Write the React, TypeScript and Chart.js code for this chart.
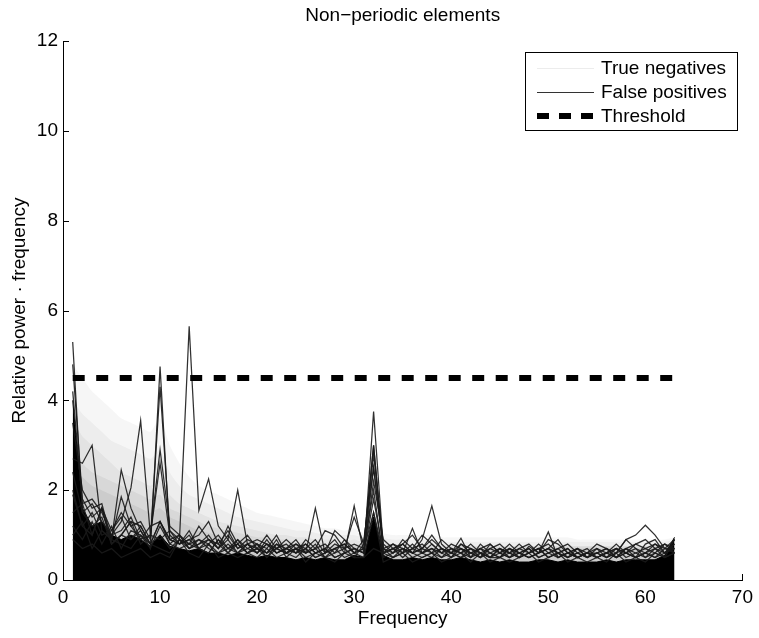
import React, { useEffect, useRef } from "react";
import { Chart, registerables } from "chart.js";
Chart.register(...registerables);

const chartTitle = "Non\u2212periodic elements";
const xTitle = "Frequency";
const yTitle = "Relative power \u00b7 frequency";
const xTicks = [0, 10, 20, 30, 40, 50, 60, 70];
const yTicks = [0, 2, 4, 6, 8, 10, 12];
const legendLabels = ["True negatives", "False positives", "Threshold"];

const freqs = [
  1, 2, 3, 4, 5, 6, 7, 8, 9, 10, 11, 12, 13, 14, 15, 16, 17, 18, 19, 20,
  21, 22, 23, 24, 25, 26, 27, 28, 29, 30, 31, 32, 33, 34, 35, 36, 37, 38, 39, 40,
  41, 42, 43, 44, 45, 46, 47, 48, 49, 50, 51, 52, 53, 54, 55, 56, 57, 58, 59, 60,
  61, 62, 63,
];

const thresholdX = [1, 63];
const thresholdY = [4.5, 4.5];

// True negatives (light grey haze), envelopes from outermost to innermost
const tn1 = [
  4.8, 4.5, 4.2, 4.0, 3.8, 3.6, 3.5, 3.4, 3.3, 3.6,
  3.0, 2.6, 2.3, 2.1, 2.0, 1.9, 1.8, 1.7, 1.6, 1.5,
  1.45, 1.4, 1.35, 1.3, 1.25, 1.2, 1.15, 1.15, 1.1, 1.15,
  1.05, 1.4, 1.05, 1.0, 1.0, 1.0, 1.0, 1.0, 0.95, 0.95,
  0.95, 0.95, 0.95, 0.95, 0.95, 0.95, 0.95, 0.95, 0.95, 0.95,
  0.95, 0.95, 0.9, 0.9, 0.9, 0.9, 0.9, 0.9, 0.9, 0.9,
  0.9, 0.9, 0.95,
];
const tn2 = [
  4.0, 3.7, 3.5, 3.3, 3.1, 3.0, 2.9, 2.8, 2.7, 2.9,
  2.4, 2.1, 1.9, 1.8, 1.7, 1.6, 1.5, 1.4, 1.35, 1.3,
  1.25, 1.2, 1.15, 1.1, 1.1, 1.05, 1.0, 1.0, 1.0, 1.0,
  0.95, 1.2, 0.95, 0.9, 0.9, 0.9, 0.9, 0.9, 0.85, 0.85,
  0.85, 0.85, 0.85, 0.85, 0.85, 0.85, 0.85, 0.85, 0.85, 0.85,
  0.85, 0.85, 0.85, 0.85, 0.85, 0.85, 0.85, 0.85, 0.85, 0.85,
  0.85, 0.85, 0.9,
];
const tn3 = [
  3.6, 3.2, 3.0, 2.8, 2.6, 2.4, 2.3, 2.2, 2.1, 2.2,
  1.9, 1.7, 1.6, 1.5, 1.4, 1.3, 1.25, 1.2, 1.15, 1.1,
  1.05, 1.0, 1.0, 0.95, 0.95, 0.9, 0.9, 0.9, 0.85, 0.9,
  0.85, 1.1, 0.85, 0.8, 0.8, 0.8, 0.8, 0.8, 0.75, 0.75,
  0.75, 0.75, 0.75, 0.75, 0.75, 0.75, 0.75, 0.75, 0.75, 0.75,
  0.75, 0.75, 0.75, 0.75, 0.75, 0.75, 0.75, 0.75, 0.75, 0.75,
  0.75, 0.75, 0.8,
];
const tn4 = [
  3.0, 2.6, 2.4, 2.3, 2.2, 2.1, 2.0, 1.9, 1.8, 1.9,
  1.6, 1.5, 1.4, 1.3, 1.2, 1.15, 1.1, 1.05, 1.0, 0.95,
  0.95, 0.9, 0.9, 0.85, 0.85, 0.85, 0.8, 0.8, 0.8, 0.8,
  0.8, 1.0, 0.8, 0.75, 0.75, 0.75, 0.75, 0.75, 0.75, 0.75,
  0.75, 0.75, 0.75, 0.75, 0.75, 0.75, 0.75, 0.75, 0.75, 0.75,
  0.75, 0.75, 0.75, 0.75, 0.75, 0.75, 0.75, 0.75, 0.75, 0.75,
  0.75, 0.75, 0.75,
];
const tn5 = [
  2.6, 2.3, 2.1, 2.0, 1.9, 1.8, 1.7, 1.6, 1.5, 1.6,
  1.4, 1.3, 1.2, 1.1, 1.05, 1.0, 0.95, 0.9, 0.9, 0.85,
  0.85, 0.8, 0.8, 0.8, 0.75, 0.75, 0.75, 0.75, 0.75, 0.75,
  0.75, 0.9, 0.75, 0.7, 0.7, 0.7, 0.7, 0.7, 0.7, 0.7,
  0.7, 0.7, 0.7, 0.7, 0.7, 0.7, 0.7, 0.7, 0.7, 0.7,
  0.7, 0.7, 0.7, 0.7, 0.7, 0.7, 0.7, 0.7, 0.7, 0.7,
  0.7, 0.7, 0.75,
];
const tnLayers = [tn1, tn2, tn3, tn4, tn5];
const tnAlphas = [0.035, 0.04, 0.045, 0.05, 0.06];

// False positives: dense mass envelope
const fpMass = [
  4.0, 1.6, 1.2, 1.3, 1.0, 0.9, 1.0, 0.9, 0.75, 1.0,
  0.75, 0.7, 0.65, 0.7, 0.6, 0.6, 0.55, 0.6, 0.55, 0.5,
  0.55, 0.5, 0.5, 0.45, 0.5, 0.45, 0.5, 0.45, 0.45, 0.55,
  0.5, 1.4, 0.55, 0.45, 0.45, 0.5, 0.45, 0.5, 0.45, 0.45,
  0.5, 0.45, 0.4, 0.45, 0.4, 0.45, 0.4, 0.4, 0.45, 0.45,
  0.4, 0.45, 0.4, 0.4, 0.4, 0.45, 0.4, 0.45, 0.45, 0.45,
  0.45, 0.55, 0.95,
];

// Individual false-positive traces
const fp1 = [
  0.9, 0.7, 0.8, 0.6, 0.7, 0.5, 0.6, 0.7, 0.5, 0.6,
  0.5, 0.9, 5.65, 1.55, 2.25, 1.2, 0.9, 2.0, 0.8, 0.6,
  0.9, 0.6, 0.7, 0.8, 0.6, 1.6, 0.6, 1.1, 0.9, 0.6,
  0.5, 0.7, 0.6, 0.7, 0.8, 0.6, 0.9, 1.65, 0.8, 0.6,
  0.7, 0.5, 0.8, 0.6, 0.5, 0.7, 0.6, 0.5, 0.6, 0.7,
  0.6, 0.5, 0.6, 0.5, 0.6, 0.5, 0.6, 0.9, 1.0, 1.22,
  1.0, 0.7, 0.6,
];
const fp2 = [
  5.3, 1.5, 1.2, 1.4, 0.8, 1.0, 0.9, 1.1, 0.7, 4.75,
  0.9, 0.8, 1.0, 0.7, 0.8, 0.6, 0.7, 0.8, 0.6, 0.7,
  0.5, 0.8, 0.6, 0.7, 0.5, 0.6, 0.7, 0.5, 0.6, 1.65,
  0.6, 3.75, 0.7, 0.5, 0.6, 1.15, 0.6, 0.7, 0.5, 0.6,
  0.93, 0.5, 0.6, 0.5, 0.7, 0.5, 0.6, 0.5, 0.6, 1.07,
  0.5, 0.6, 0.5, 0.6, 0.5, 0.6, 0.5, 0.6, 0.5, 0.6,
  0.5, 0.6, 0.9,
];
const fp3 = [
  2.7, 2.6, 3.0, 1.1, 0.9, 1.85, 1.2, 0.9, 1.0, 2.9,
  1.2, 1.0, 0.8, 1.2, 0.9, 0.7, 1.2, 0.8, 1.0, 0.7,
  1.0, 0.7, 0.8, 0.6, 0.9, 0.7, 1.1, 1.0, 0.7, 0.8,
  0.7, 2.8, 0.8, 0.6, 0.9, 0.7, 1.0, 0.8, 0.6, 0.7,
  0.6, 0.7, 0.5, 0.8, 0.6, 0.7, 0.5, 0.75, 0.6, 0.7,
  0.9, 0.6, 0.7, 0.5, 0.6, 0.7, 0.5, 0.7, 0.8, 0.9,
  0.7, 0.8, 0.6,
];
const fp4 = [
  4.2, 1.7, 1.8, 1.5, 1.0, 1.3, 2.05, 3.55, 1.0, 2.6,
  1.0, 0.8, 0.9, 1.0, 1.3, 0.8, 1.1, 0.7, 0.9, 0.8,
  0.7, 1.0, 0.6, 0.8, 0.7, 0.9, 0.6, 0.8, 0.7, 1.4,
  0.8, 3.0, 0.6, 0.7, 0.8, 1.0, 0.7, 1.0, 0.7, 0.5,
  0.8, 0.6, 0.7, 0.8, 0.6, 0.5, 0.7, 0.6, 0.8, 0.6,
  0.7, 0.8, 0.6, 0.5, 0.7, 0.6, 0.7, 0.6, 0.5, 0.8,
  0.9, 0.6, 0.8,
];
const fp5 = [
  3.5, 2.0, 1.6, 1.7, 0.9, 2.45, 1.6, 1.1, 0.8, 1.3,
  0.8, 1.0, 0.7, 0.9, 0.8, 1.0, 0.7, 0.9, 0.6, 0.8,
  0.6, 0.7, 0.9, 0.7, 0.6, 0.8, 0.5, 0.7, 0.8, 0.6,
  0.9, 2.5, 0.7, 0.8, 0.6, 0.7, 0.8, 0.6, 0.9, 0.7,
  0.6, 0.8, 0.6, 0.7, 0.8, 0.6, 0.7, 0.8, 0.6, 0.9,
  0.8, 0.6, 0.7, 0.6, 0.8, 0.7, 0.6, 0.9, 0.7, 0.6,
  0.8, 0.7, 0.9,
];
const fp6 = [
  4.8, 1.8, 1.4, 1.6, 1.1, 1.5, 1.2, 1.3, 0.9, 4.3,
  1.1, 0.9, 0.7, 0.8, 1.0, 0.7, 0.9, 0.6, 0.8, 0.9,
  0.8, 0.6, 0.7, 0.9, 0.6, 0.7, 0.8, 0.6, 0.9, 0.7,
  0.6, 2.2, 0.9, 0.7, 0.6, 0.8, 0.6, 0.7, 0.6, 0.8,
  0.7, 0.6, 0.5, 0.7, 0.6, 0.8, 0.6, 0.7, 0.5, 0.6,
  0.7, 0.5, 0.6, 0.7, 0.5, 0.6, 0.8, 0.6, 0.7, 0.5,
  0.6, 0.8, 0.7,
];
const fp7 = [
  2.4, 1.5, 1.7, 1.3, 1.0, 1.1, 1.4, 0.9, 1.2, 1.3,
  0.9, 0.8, 1.1, 0.7, 0.9, 0.8, 0.6, 0.9, 0.7, 0.6,
  0.8, 0.7, 0.6, 0.7, 0.8, 0.6, 0.7, 0.9, 0.6, 0.7,
  0.6, 1.8, 0.6, 0.8, 0.7, 0.6, 0.7, 0.9, 0.7, 0.6,
  0.8, 0.7, 0.6, 0.5, 0.7, 0.6, 0.8, 0.6, 0.7, 0.8,
  0.6, 0.7, 0.5, 0.6, 0.6, 0.5, 0.7, 0.6, 0.8, 0.7,
  0.8, 0.6, 0.7,
];
const fp8 = [
  2.0, 1.2, 1.0, 1.6, 0.8, 1.0, 1.3, 1.2, 0.8, 1.0,
  0.7, 0.9, 0.8, 0.7, 0.6, 0.9, 0.7, 0.6, 0.8, 0.7,
  0.6, 0.8, 0.7, 0.6, 0.7, 0.5, 0.6, 0.7, 0.8, 0.6,
  0.7, 1.5, 0.6, 0.5, 0.7, 0.6, 0.5, 0.6, 0.7, 0.6,
  0.5, 0.6, 0.7, 0.6, 0.5, 0.6, 0.5, 0.6, 0.7, 0.5,
  0.6, 0.7, 0.5, 0.6, 0.5, 0.6, 0.5, 0.7, 0.6, 0.5,
  0.7, 0.5, 0.6,
];
const fp9 = [
  1.9, 1.2, 1.5, 1.0, 1.1, 1.4, 0.9, 1.2, 0.8, 1.3,
  0.9, 1.0, 0.7, 0.8, 0.9, 0.7, 1.0, 0.7, 0.8, 0.6,
  0.8, 0.6, 0.7, 0.6, 0.8, 0.6, 0.7, 0.5, 0.6, 0.7,
  0.6, 2.5, 0.7, 0.6, 0.8, 0.6, 0.7, 0.6, 0.5, 0.7,
  0.6, 0.5, 0.7, 0.5, 0.6, 0.5, 0.6, 0.7, 0.5, 0.6,
  0.5, 0.6, 0.5, 0.6, 0.5, 0.6, 0.7, 0.5, 0.6, 0.7,
  0.6, 0.5, 0.9,
];
const fp10 = [
  1.5, 1.7, 1.0, 1.6, 0.8, 1.0, 1.3, 0.8, 1.0, 0.9,
  1.1, 0.8, 0.9, 0.7, 0.6, 0.9, 0.6, 0.8, 0.6, 0.7,
  0.6, 0.9, 0.5, 0.7, 0.6, 0.7, 0.5, 0.6, 0.7, 0.5,
  0.8, 3.0, 0.6, 0.7, 0.5, 0.7, 0.6, 0.8, 0.6, 0.5,
  0.7, 0.6, 0.5, 0.6, 0.7, 0.6, 0.5, 0.6, 0.7, 0.5,
  0.6, 0.5, 0.7, 0.5, 0.6, 0.7, 0.5, 0.6, 0.5, 0.6,
  0.7, 0.6, 0.8,
];
const fp11 = [
  1.2, 0.9, 1.3, 0.8, 1.2, 0.7, 1.1, 1.0, 0.7, 1.2,
  0.8, 0.7, 0.8, 0.9, 0.7, 0.6, 0.8, 0.6, 0.7, 0.8,
  0.5, 0.7, 0.6, 0.5, 0.7, 0.5, 0.6, 0.7, 0.5, 0.6,
  0.7, 2.0, 0.5, 0.6, 0.7, 0.5, 0.6, 0.5, 0.7, 0.6,
  0.5, 0.7, 0.6, 0.5, 0.5, 0.7, 0.6, 0.5, 0.6, 0.7,
  0.5, 0.6, 0.5, 0.6, 0.7, 0.5, 0.6, 0.7, 0.5, 0.6,
  0.5, 0.7, 0.7,
];
const fp12 = [
  1.0, 1.3, 0.7, 1.1, 0.9, 0.8, 0.7, 1.0, 0.8, 0.7,
  0.6, 0.9, 0.6, 0.5, 0.8, 0.5, 0.6, 0.5, 0.6, 0.5,
  0.7, 0.5, 0.6, 0.7, 0.4, 0.6, 0.5, 0.4, 0.6, 0.5,
  0.5, 1.5, 0.4, 0.5, 0.6, 0.4, 0.5, 0.6, 0.4, 0.5,
  0.6, 0.4, 0.6, 0.4, 0.5, 0.4, 0.5, 0.6, 0.4, 0.5,
  0.6, 0.4, 0.5, 0.4, 0.5, 0.4, 0.6, 0.4, 0.5, 0.4,
  0.6, 0.5, 0.6,
];

const fpLines = [fp1, fp2, fp3, fp4, fp5, fp6, fp7, fp8, fp9, fp10, fp11, fp12];

const FONT = '"Liberation Sans", Arial, Helvetica, sans-serif';

export default function App() {
  const ref = useRef<HTMLCanvasElement>(null);

  useEffect(() => {
    const canvas = ref.current;
    if (!canvas) return;
    const pts = (vals: number[]) => vals.map((v, i) => ({ x: freqs[i], y: v }));

    const datasets: any[] = [];
    datasets.push({
      label: legendLabels[2],
      data: thresholdX.map((x, i) => ({ x, y: thresholdY[i] })),
      borderColor: "#000",
      borderWidth: 6,
      borderDash: [12, 11.5],
      borderCapStyle: "butt",
      pointRadius: 0,
      fill: false,
      order: 0,
    });
    fpLines.forEach((arr, i) => {
      datasets.push({
        label: i === 0 ? legendLabels[1] : "",
        data: pts(arr),
        borderColor: "rgba(25,25,25,0.9)",
        borderWidth: 1.25,
        pointRadius: 0,
        tension: 0,
        fill: false,
        order: 1,
      });
    });
    datasets.push({
      label: "",
      data: pts(fpMass),
      borderColor: "#000",
      borderWidth: 1,
      backgroundColor: "#000",
      pointRadius: 0,
      tension: 0,
      fill: "origin",
      order: 2,
    });
    tnLayers.forEach((arr, i) => {
      datasets.push({
        label: i === 0 ? legendLabels[0] : "",
        data: pts(arr),
        borderWidth: 0,
        borderColor: "rgba(0,0,0,0)",
        backgroundColor: `rgba(0,0,0,${tnAlphas[i]})`,
        pointRadius: 0,
        tension: 0.2,
        fill: "origin",
        order: 3 + i,
      });
    });

    const decor = {
      id: "decor",
      afterDraw(chart: any) {
        const ctx = chart.ctx as CanvasRenderingContext2D;
        const area = chart.chartArea;
        const xs = chart.scales.x;
        const ys = chart.scales.y;
        ctx.save();
        // inward ticks
        ctx.strokeStyle = "#000";
        ctx.lineWidth = 1;
        ctx.beginPath();
        yTicks.forEach((v) => {
          const py = Math.round(ys.getPixelForValue(v)) + 0.5;
          ctx.moveTo(area.left, py);
          ctx.lineTo(area.left + 6, py);
        });
        xTicks.forEach((v) => {
          const px = Math.round(xs.getPixelForValue(v)) + 0.5;
          ctx.moveTo(px, area.bottom);
          ctx.lineTo(px, area.bottom - 6);
        });
        ctx.stroke();

        // title
        ctx.fillStyle = "#000";
        ctx.font = `19px ${FONT}`;
        ctx.textAlign = "center";
        ctx.textBaseline = "middle";
        ctx.fillText(chartTitle, (area.left + area.right) / 2, 16);

        // legend
        const bx = 525.5, by = 52.5, bw = 212, bh = 78;
        ctx.fillStyle = "#fff";
        ctx.fillRect(bx, by, bw, bh);
        ctx.strokeStyle = "#000";
        ctx.lineWidth = 1;
        ctx.strokeRect(bx, by, bw, bh);
        const rows = [68, 92, 116];
        const lx0 = 537, lx1 = 594;
        ctx.strokeStyle = "#ececec";
        ctx.lineWidth = 1;
        ctx.beginPath();
        ctx.moveTo(lx0, rows[0] + 0.5);
        ctx.lineTo(lx1, rows[0] + 0.5);
        ctx.stroke();
        ctx.strokeStyle = "#333";
        ctx.lineWidth = 1.2;
        ctx.beginPath();
        ctx.moveTo(lx0, rows[1] + 0.5);
        ctx.lineTo(lx1, rows[1] + 0.5);
        ctx.stroke();
        ctx.strokeStyle = "#000";
        ctx.lineWidth = 6;
        ctx.lineCap = "butt";
        ctx.setLineDash([12, 10]);
        ctx.beginPath();
        ctx.moveTo(lx0, rows[2]);
        ctx.lineTo(lx1 + 2, rows[2]);
        ctx.stroke();
        ctx.setLineDash([]);
        ctx.fillStyle = "#000";
        ctx.font = `19px ${FONT}`;
        ctx.textAlign = "left";
        ctx.textBaseline = "middle";
        legendLabels.forEach((t, i) => ctx.fillText(t, 601, rows[i] + 1));
        ctx.restore();
      },
    };

    const chart = new Chart(canvas, {
      type: "line",
      data: { datasets },
      options: {
        animation: false,
        responsive: false,
        devicePixelRatio: 1,
        events: [],
        layout: { padding: { top: 41, right: 14, left: 0, bottom: 0 } },
        plugins: {
          legend: { display: false },
          title: { display: false },
          tooltip: { enabled: false },
        },
        scales: {
          x: {
            type: "linear",
            min: 0,
            max: 70,
            afterFit: (s: any) => { s.height = 58; },
            afterBuildTicks: (s: any) => { s.ticks = xTicks.map((v) => ({ value: v })); },
            grid: { display: false, drawTicks: false },
            border: { display: true, color: "#000", width: 1 },
            ticks: { color: "#000", padding: 6, font: { family: FONT, size: 19 }, maxRotation: 0, autoSkip: false },
            title: { display: true, text: xTitle, color: "#000", font: { family: FONT, size: 19 }, padding: { top: 0, bottom: 8 } },
          },
          y: {
            type: "linear",
            min: 0,
            max: 12,
            afterFit: (s: any) => { s.width = 63; },
            afterBuildTicks: (s: any) => { s.ticks = yTicks.map((v) => ({ value: v })); },
            grid: { display: false, drawTicks: false },
            border: { display: true, color: "#000", width: 1 },
            ticks: { color: "#000", padding: 5, font: { family: FONT, size: 19 }, autoSkip: false },
            title: { display: true, text: yTitle, color: "#000", font: { family: FONT, size: 19 }, padding: { top: 8, bottom: 0 } },
          },
        },
      },
      plugins: [decor],
    } as any);

    return () => chart.destroy();
  }, []);

  return (
    <div style={{ position: "absolute", left: 0, top: 0, width: 759, height: 638, background: "#fff" }}>
      <canvas ref={ref} width={759} height={638} style={{ width: 759, height: 638, display: "block" }} />
    </div>
  );
}
